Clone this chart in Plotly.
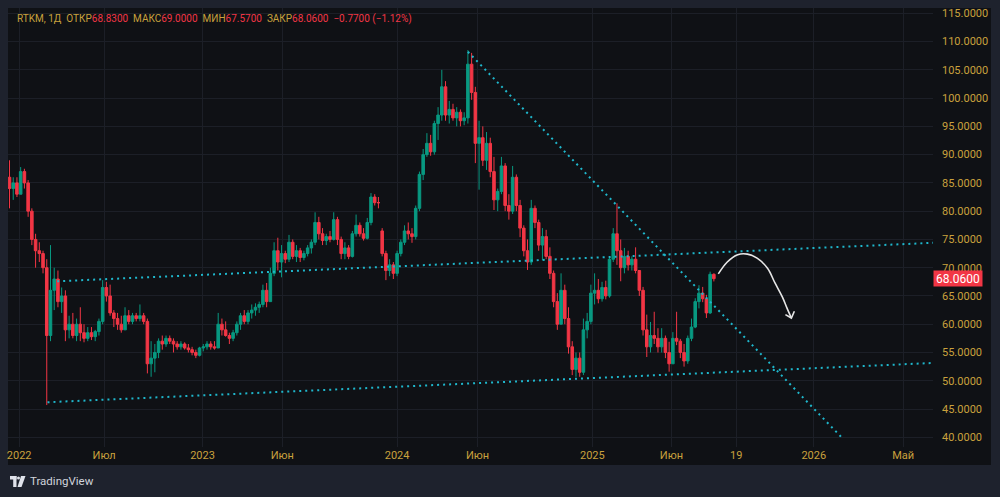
import pandas as pd
import plotly.graph_objects as go

# ---------------- data (weekly candles) ----------------
symbol_title = "RTKM, 1Д"
first_week = "2021-12-15"
closed_weeks = ["2022-03-02", "2022-03-09", "2022-03-16"]   # exchange closed
closure_break = ["2022-02-26", "2022-03-21"]
weekday_only_until = "2025-08-17"

opens = [86, 84, 85, 83, 87, 85, 80, 75, 73, 72.5, 70, 58, 66, 68, 64, 65, 59, 60, 58, 60,
         58.5, 57.5, 58.5, 57.8, 58.7, 60.5, 66.5, 65, 62, 61, 60, 59, 61.5, 60.5, 61.5, 61, 61.5, 60.5, 53, 54,
         55, 57, 56.5, 57.5, 57, 56.5, 56, 56.5, 55.8, 55.5, 55, 54.5, 55.8, 56, 56.5, 56, 55.8, 60, 59, 58,
         57.5, 58.5, 60, 61.5, 60.5, 62, 62.5, 63, 63.5, 66, 64, 69, 73, 71, 72.5, 71.5, 74.5, 72, 73, 71.8,
         72.5, 73.5, 74.5, 78, 76, 74.8, 75.5, 75, 78.5, 75, 72.5, 73.5, 72, 76, 77.5, 76, 75.2, 78, 82.5, 81.5,
         76.5, 72.5, 69.5, 70.5, 69, 72.5, 74.5, 76.5, 76, 75.5, 80.5, 86.5, 90, 92, 90.5, 95.5, 97, 102, 97, 98,
         96.5, 97.5, 96, 96.5, 106, 101, 92, 93, 89, 92, 87, 82, 83.5, 88, 81, 80, 86, 81, 77, 73,
         71, 80.5, 78, 74, 75.5, 72, 69, 64, 60, 66, 61, 56, 52, 54, 51.5, 59, 60.5, 65.5, 66, 64.5,
         66.5, 65, 71.5, 76, 73, 70, 72, 70.5, 71.5, 69.5, 66, 59, 56, 58, 57.5, 56, 57.5, 55, 53, 57.5,
         57, 55, 53.5, 57.5, 59.5, 64, 65.5, 64.5, 62, 68.83]
highs = [89, 86, 86, 87.8, 87.5, 85.5, 80.5, 76, 74.5, 73, 71.5, 74, 70, 69.5, 66.5, 66, 61.5, 62, 61, 63,
         60, 59.5, 59.5, 59, 61, 67.8, 67.5, 67, 62.5, 62, 61.5, 63, 62.5, 62, 62, 63.5, 62, 61, 57, 56.5,
         57.5, 58, 58, 58, 57.5, 57, 57, 56.8, 56.5, 56, 55.5, 56, 56.5, 57, 57, 57, 62, 61, 60.5, 58.5,
         59, 60.5, 62, 62.5, 62.5, 63.5, 63.7, 64, 67, 67.3, 70, 74.5, 75.3, 74, 73, 75.8, 75, 74, 73.5, 73,
         74, 75, 79.8, 79, 77, 76, 76.5, 79.8, 79, 75.5, 74.5, 74, 76.5, 79.4, 78, 77, 78.8, 83.2, 83, 82.5,
         77, 73, 71.5, 71, 73, 75, 77.5, 78, 77, 81, 87, 91, 93.8, 93.5, 96, 98.4, 105, 103, 99.5, 99,
         98.4, 98, 97.5, 108.5, 108, 102, 96, 95, 94, 93, 89.6, 84, 89.6, 88.5, 83, 88, 86.5, 82, 77.5, 75,
         82, 81, 78.5, 77, 76.7, 73.6, 69.5, 65.5, 69, 67, 63, 57, 55, 55, 61, 62, 67, 69, 68, 67.5,
         67.7, 72, 77, 81.4, 75, 73.5, 73, 72, 73.6, 69.5, 66.6, 61.7, 60.4, 62.2, 59.3, 59.3, 58, 56.9, 58.6, 62.2,
         57.4, 56.5, 58, 61, 64.6, 66.9, 66.6, 65.2, 69.3, 69.0]
lows = [80.5, 82, 82.5, 83, 84, 79, 74, 70, 71, 69, 45.7, 57, 62.5, 63, 62, 57, 57.5, 57.5, 57, 57,
        56.8, 57, 57.2, 57, 58, 60, 64, 61.5, 59.5, 59, 58.5, 59, 60, 60, 60.5, 60.5, 60, 51.3, 50.7, 51.5,
        54, 55.5, 56, 56.5, 55, 55.5, 55.5, 55.5, 55, 54.5, 54, 54.3, 55.2, 55.5, 55.5, 55.5, 55.8, 58, 57.8, 56.5,
        57, 58, 59, 60, 60, 61, 61.5, 62, 63, 63, 64, 68.5, 69.5, 68.3, 70.8, 71, 71.5, 71, 71, 71.3,
        72, 72.5, 74, 75, 74, 74, 74.5, 74.8, 74, 71.5, 71.5, 71.5, 71.8, 75.5, 75.5, 74.8, 75, 77.5, 81, 80.5,
        72, 67.8, 68.5, 68, 68.5, 72, 74, 75, 74.4, 75, 80, 85.5, 89.6, 89.8, 90, 92.6, 96, 96, 95.5, 96,
        95, 95, 95.2, 95.5, 99.7, 88.5, 83.8, 88, 87.3, 86, 80.2, 80, 83, 80, 78.5, 79.5, 80, 75.4, 72, 69.6,
        70.5, 77, 73, 71.3, 71.5, 68, 63, 59, 60, 60, 54.8, 51, 50.7, 50.7, 51, 57.5, 60, 63.5, 63.7, 64,
        64.4, 64.7, 71, 70.5, 67.6, 69, 69.5, 69.5, 69, 65, 58, 54.2, 55, 56.5, 55, 55, 54, 51.6, 53, 56.3,
        54, 52.5, 53, 57, 59.3, 62.8, 63.9, 61.1, 61.8, 67.57]
closes = [84, 85, 83, 87, 85, 80, 75, 73, 72.5, 70, 58, 66, 68, 64, 65, 59, 60, 58, 60, 58.5,
          57.5, 58.5, 57.8, 58.7, 60.5, 66.5, 65, 62, 61, 60, 59, 61.5, 60.5, 61.5, 61, 61.5, 60.5, 53, 54, 55,
          57, 56.5, 57.5, 57, 56.5, 56, 56.5, 55.8, 55.5, 55, 54.5, 55.8, 56, 56.5, 56, 55.8, 60, 59, 58, 57.5,
          58.5, 60, 61.5, 60.5, 62, 62.5, 63, 63.5, 66, 64, 69, 73, 71, 72.5, 71.5, 74.5, 72, 73, 71.8, 72.5,
          73.5, 74.5, 78, 76, 74.8, 75.5, 75, 78.5, 75, 72.5, 73.5, 72, 76, 77.5, 76, 75.2, 78, 82.5, 81.5, 81.5,
          72.5, 69.5, 70.5, 69, 72.5, 74.5, 76.5, 76, 75.5, 80.5, 86.5, 90, 92, 90.5, 95.5, 97, 102, 97, 98, 96.5,
          97.5, 96, 96.5, 106, 101, 92, 93, 89, 92, 87, 82, 83.5, 88, 81, 80, 86, 81, 77, 73, 71,
          80.5, 78, 74, 75.5, 72, 69, 64, 60, 66, 61, 56, 52, 54, 51.5, 59, 60.5, 65.5, 66, 64.5, 66.5,
          65, 71.5, 76, 73, 70, 72, 70.5, 71.5, 69.5, 66, 59, 56, 58, 57.5, 56, 57.5, 55, 53, 57.5, 57,
          55, 53.5, 57.5, 59.5, 64, 65.5, 64.5, 62, 68.83, 68.06]
prev_close = 68.83

# drawings on the chart
upper_channel = {"date": ["2022-04-05", "2026-06-10"], "price": [67.6, 74.4]}
lower_channel = {"date": ["2022-02-24", "2026-06-10"], "price": [46.2, 53.15]}
down_trend = {"date": ["2024-05-15", "2026-02-08"], "price": [108.2, 39.9]}
forecast_curve = {"date": ["2025-08-26", "2025-09-07", "2025-09-21", "2025-10-04", "2025-10-17",
                           "2025-10-31", "2025-11-10", "2025-11-20", "2025-11-26", "2025-12-02"],
                  "price": [68.9, 71.0, 72.3, 72.4, 71.7, 69.9, 67.3, 64.8, 62.9, 61.1]}
forecast_head = {"date": ["2025-11-24", "2025-12-02", "2025-12-06"], "price": [61.7, 61.1, 62.3]}

tick_dates = ["2022-01-03", "2022-07-01", "2023-01-03", "2023-06-01", "2024-01-03", "2024-06-03",
              "2025-01-03", "2025-06-02", "2025-09-19", "2026-01-01", "2026-05-01"]
tick_text = ["2022", "Июл", "2023", "Июн", "2024", "Июн", "2025", "Июн", "19", "2026", "Май"]
price_ticks = [40, 45, 50, 55, 60, 65, 70, 75, 80, 85, 90, 95, 100, 105, 110, 115]
x_range = ["2021-12-13", "2026-06-10"]
y_range = [38.28, 115.94]

# ---------------- styling ----------------
OUTER = "#1e222d"
PANEL = "#0f1115"
GRID = "#1c1f27"
GOLD = "#c9a13d"
RED = "#f23645"
GREEN = "#089981"
CYAN = "#1fb7cc"
FONT = "Roboto"

all_weeks = pd.date_range(first_week, periods=len(opens) + len(closed_weeks), freq="7D")
weeks = [d.strftime("%Y-%m-%d") for d in all_weeks if d.strftime("%Y-%m-%d") not in closed_weeks]

c0, c1 = pd.Timestamp(closure_break[0]), pd.Timestamp(closure_break[1])
weekend_days = [d.strftime("%Y-%m-%d") for d in pd.date_range("2021-12-01", weekday_only_until)
                if d.dayofweek >= 5 and not (c0 <= d < c1)]

fig = go.Figure()
fig.add_trace(go.Candlestick(
    x=weeks, open=opens, high=highs, low=lows, close=closes,
    increasing=dict(line=dict(color=GREEN, width=1), fillcolor=GREEN),
    decreasing=dict(line=dict(color=RED, width=1), fillcolor=RED),
    whiskerwidth=0, hoverinfo="skip", showlegend=False))

for ln in (upper_channel, lower_channel, down_trend):
    fig.add_trace(go.Scatter(x=ln["date"], y=ln["price"], mode="lines",
                             line=dict(color=CYAN, width=2, dash="2px,4px"),
                             hoverinfo="skip", showlegend=False))

fig.add_trace(go.Scatter(x=forecast_curve["date"], y=forecast_curve["price"], mode="lines",
                         line=dict(color="#e6e6e6", width=1.6, shape="spline", smoothing=1.0),
                         hoverinfo="skip", showlegend=False))
fig.add_trace(go.Scatter(x=forecast_head["date"], y=forecast_head["price"], mode="lines",
                         line=dict(color="#e6e6e6", width=1.6),
                         hoverinfo="skip", showlegend=False))

# plot area in pixels: x 8..933, y 8..447
PX0, PX1, PY0, PY1 = 8, 933, 8, 447


def px(x):
    return (x - PX0) / (PX1 - PX0)


def py(y):
    return (PY1 - y) / (PY1 - PY0)


shapes = [
    dict(type="rect", xref="paper", yref="paper", x0=px(8), x1=px(991), y0=py(465), y1=py(8),
         fillcolor=PANEL, line=dict(width=0), layer="below"),
    # TradingView logo
    dict(type="rect", xref="paper", yref="paper", x0=px(10), x1=px(16.5), y0=py(479.5), y1=py(476),
         fillcolor="#e0e3eb", line=dict(width=0)),
    dict(type="rect", xref="paper", yref="paper", x0=px(13.2), x1=px(16.5), y0=py(487), y1=py(476),
         fillcolor="#e0e3eb", line=dict(width=0)),
    dict(type="circle", xref="paper", yref="paper", x0=px(17), x1=px(20), y0=py(479.5), y1=py(476.5),
         fillcolor="#e0e3eb", line=dict(width=0)),
    dict(type="path", xref="paper", yref="paper",
         path=f"M {px(21)} {py(476)} L {px(25.5)} {py(476)} L {px(21.5)} {py(487)} L {px(17.5)} {py(487)} Z",
         fillcolor="#e0e3eb", line=dict(width=0)),
]

change = closes[-1] - prev_close
pct = change / prev_close * 100
sp = "\u00a0\u00a0"


def lab(t):
    return f"<span style='color:{GOLD}'>{t}</span>"


def val(t):
    return f"<span style='color:{RED}'>{t}</span>"


legend_text = (lab(symbol_title) + sp + lab("ОТКР") + val(f"{opens[-1]:.4f}") + sp
               + lab("МАКС") + val(f"{highs[-1]:.4f}") + sp + lab("МИН") + val(f"{lows[-1]:.4f}") + sp
               + lab("ЗАКР") + val(f"{closes[-1]:.4f}") + sp
               + val(f"{change:+.4f} ({pct:+.2f}%)".replace("-", "−")))

annotations = [
    dict(xref="paper", yref="paper", x=px(15), y=py(19), xanchor="left", yanchor="middle",
         text=legend_text, showarrow=False, font=dict(family=FONT, size=10, color=GOLD)),
    dict(xref="paper", yref="y", x=1.0, y=closes[-1], xanchor="left", yanchor="middle",
         text=f"{closes[-1]:.4f}", showarrow=False, bgcolor=RED, width=46, height=13, borderpad=1,
         font=dict(family=FONT, size=12, color="#ffffff")),
    dict(xref="paper", yref="paper", x=px(28), y=py(481), xanchor="left", yanchor="middle",
         text="TradingView", showarrow=False, font=dict(family=FONT, size=11.5, color="#d1d4dc")),
]

fig.update_layout(
    width=1000, height=497, autosize=False,
    margin=dict(l=PX0, r=1000 - PX1, t=PY0, b=497 - PY1, pad=0),
    paper_bgcolor=OUTER, plot_bgcolor=PANEL,
    font=dict(family=FONT, color=GOLD, size=11),
    shapes=shapes, annotations=annotations, showlegend=False, hovermode=False,
    xaxis=dict(type="date", range=x_range,
               rangebreaks=[dict(bounds=closure_break), dict(values=weekend_days, dvalue=86400000)],
               tickmode="array", tickvals=tick_dates, ticktext=tick_text,
               showgrid=True, gridcolor=GRID, gridwidth=1, zeroline=False, showline=False,
               ticks="", ticklabelstandoff=0, tickfont=dict(family=FONT, size=11, color=GOLD),
               rangeslider=dict(visible=False), fixedrange=True),
    yaxis=dict(side="right", range=y_range, tickmode="array", tickvals=price_ticks,
               ticktext=[f"{v:.4f}" for v in price_ticks],
               showgrid=True, gridcolor=GRID, gridwidth=1, zeroline=False, showline=False,
               ticks="", ticklabelstandoff=8, tickfont=dict(family=FONT, size=11, color=GOLD),
               fixedrange=True),
)

fig.write_html("out.html")
